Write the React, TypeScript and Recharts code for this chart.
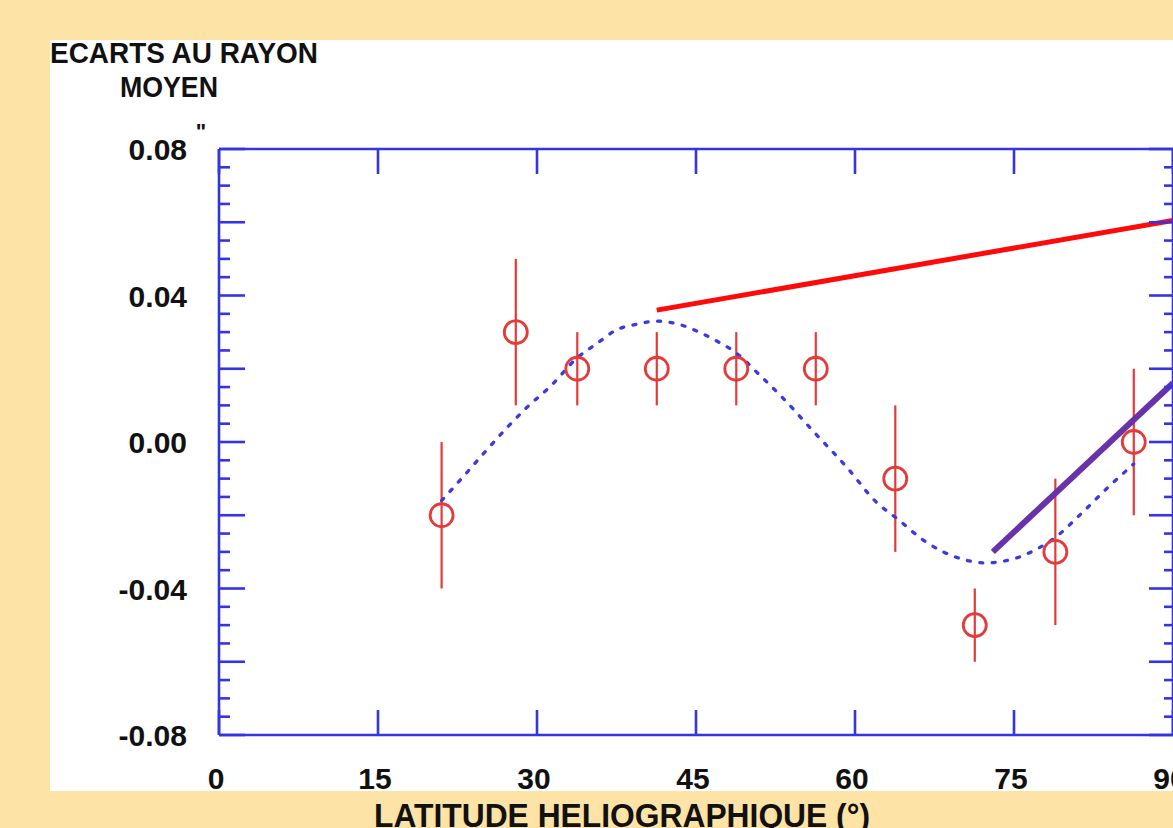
import React from 'react'
import { ComposedChart, Line, Scatter, ErrorBar, XAxis, YAxis } from 'recharts'

// measured points (latitude, deviation, error)
const latitudes = [21.0, 28.0, 33.8, 41.3, 48.8, 56.3, 63.8, 71.3, 78.9, 86.3]
const ecarts = [-0.02, 0.03, 0.02, 0.02, 0.02, 0.02, -0.01, -0.05, -0.03, 0.0]
const errors = [0.02, 0.02, 0.01, 0.01, 0.01, 0.01, 0.02, 0.01, 0.02, 0.02]

// dotted fit curve
const fitLat = [21.0, 23.0, 25.0, 27.2, 29.1, 31.2, 33.8, 35.7, 37.5, 39.5, 41.3, 43.3, 45.3, 47.0, 48.8, 51.0, 53.2, 56.2, 59.2, 62.0, 64.0, 66.7, 69.8, 72.3, 75.2, 77.3, 78.7, 81.4, 83.9, 86.3]
const fitVal = [-0.016, -0.0096, -0.003, 0.004, 0.0096, 0.015, 0.023, 0.027, 0.0306, 0.0322, 0.033, 0.0322, 0.03, 0.0275, 0.0243, 0.0183, 0.012, 0.0025, -0.0068, -0.0164, -0.021, -0.0273, -0.0317, -0.033, -0.0317, -0.029, -0.0265, -0.0194, -0.0123, -0.006]

// annotation strokes
const redLat = [41.3, 90]
const redVal = [0.036, 0.0605]
const purpleLat = [73.0, 90]
const purpleVal = [-0.03, 0.0161]

const xTicks = [0, 15, 30, 45, 60, 75, 90]
const yTicks = [
  -0.08, -0.075, -0.07, -0.065, -0.06, -0.055, -0.05, -0.045, -0.04, -0.035, -0.03,
  -0.025, -0.02, -0.015, -0.01, -0.005, 0, 0.005, 0.01, 0.015, 0.02, 0.025, 0.03,
  0.035, 0.04, 0.045, 0.05, 0.055, 0.06, 0.065, 0.07, 0.075, 0.08,
]

const AXIS = '#3434e4'
const POINT = '#e43a3a'
const FONT = '"Liberation Sans", Arial, sans-serif'
const AXW = 2.6

const points = latitudes.map((x, i) => ({ x, y: ecarts[i], err: errors[i] }))
const fitCurve = fitLat.map((x, i) => ({ x, y: fitVal[i] }))
const redLine = redLat.map((x, i) => ({ x, y: redVal[i] }))
const purpleLine = purpleLat.map((x, i) => ({ x, y: purpleVal[i] }))

const isMajor = (v: number) => Math.round(v * 1000) % 20 === 0
const isLabel = (v: number) => Math.round(v * 1000) % 40 === 0

function LeftTick(props: any) {
  const { x, y, payload } = props
  const v = payload.value
  return (
    <g>
      <line x1={x} y1={y} x2={x + (isMajor(v) ? 26 : 11)} y2={y} stroke={AXIS} strokeWidth={AXW} />
      {isLabel(v) && (
        <text x={x - 32} y={y} dy={11} textAnchor="end" fontFamily={FONT} fontWeight="bold" fontSize={30} fill="#111">
          {v.toFixed(2)}
        </text>
      )}
    </g>
  )
}

function RightTick(props: any) {
  const { x, y, payload } = props
  return <line x1={x} y1={y} x2={x - (isMajor(payload.value) ? 24 : 9)} y2={y} stroke={AXIS} strokeWidth={AXW} />
}

function BottomTick(props: any) {
  const { x, y, payload } = props
  return (
    <g>
      <line x1={x} y1={y} x2={x} y2={y - 25} stroke={AXIS} strokeWidth={AXW} />
      <text x={x - 3} y={y + 54} textAnchor="middle" fontFamily={FONT} fontWeight="bold" fontSize={30} fill="#111">
        {payload.value}
      </text>
    </g>
  )
}

function TopTick(props: any) {
  const { x, y } = props
  return <line x1={x} y1={y} x2={x} y2={y + 25} stroke={AXIS} strokeWidth={AXW} />
}

function Ring(props: any) {
  const { cx, cy } = props
  return <circle cx={cx} cy={cy} r={11.5} fill="none" stroke={POINT} strokeWidth={2.8} />
}

export default function App() {
  return (
    <div style={{ position: 'absolute', left: 0, top: 0, width: 1173, height: 828, overflow: 'hidden', background: '#fee3a6' }}>
      <div style={{ position: 'absolute', left: 50, top: 40, width: 1123, height: 751, background: '#ffffff' }} />
      <div style={{ position: 'absolute', left: 0, top: 0 }}>
        <ComposedChart width={1200} height={828} margin={{ top: 129, right: 7, bottom: 33, left: 159 }}>
          <XAxis
            dataKey="x"
            type="number"
            domain={[0, 90]}
            ticks={xTicks}
            interval={0}
            height={60}
            tickSize={0}
            tickMargin={0}
            tick={<BottomTick />}
            axisLine={{ stroke: AXIS, strokeWidth: AXW }}
            allowDataOverflow
          />
          <XAxis
            xAxisId="top"
            orientation="top"
            dataKey="x"
            type="number"
            domain={[0, 90]}
            ticks={xTicks}
            interval={0}
            height={20}
            tickSize={0}
            tickMargin={0}
            tick={<TopTick />}
            axisLine={{ stroke: AXIS, strokeWidth: AXW }}
            allowDataOverflow
          />
          <YAxis
            type="number"
            domain={[-0.08, 0.08]}
            ticks={yTicks}
            interval={0}
            width={60}
            tickSize={0}
            tickMargin={0}
            tick={<LeftTick />}
            axisLine={{ stroke: AXIS, strokeWidth: AXW }}
            allowDataOverflow
          />
          <YAxis
            yAxisId="right"
            orientation="right"
            type="number"
            domain={[-0.08, 0.08]}
            ticks={yTicks}
            interval={0}
            width={20}
            tickSize={0}
            tickMargin={0}
            tick={<RightTick />}
            axisLine={{ stroke: AXIS, strokeWidth: AXW }}
            allowDataOverflow
          />
          <Line xAxisId="top" yAxisId="right" data={fitCurve} dataKey="y" stroke="none" dot={false} isAnimationActive={false} />
          <Scatter data={points} dataKey="y" shape={<Ring />} isAnimationActive={false}>
            <ErrorBar dataKey="err" direction="y" width={0} stroke={POINT} strokeWidth={2.2} isAnimationActive={false} />
          </Scatter>
          <Line
            data={fitCurve}
            dataKey="y"
            type="monotone"
            stroke="#3a3ae2"
            strokeWidth={3.3}
            strokeDasharray="3 9.5"
            strokeLinecap="round"
            dot={false}
            isAnimationActive={false}
          />
          <Line data={redLine} dataKey="y" stroke="#ff0a0a" strokeWidth={5} dot={false} isAnimationActive={false} />
          <Line data={purpleLine} dataKey="y" stroke="#6a32a8" strokeWidth={6} dot={false} isAnimationActive={false} />
        </ComposedChart>
      </div>
      <svg width={1173} height={828} style={{ position: 'absolute', left: 0, top: 0, pointerEvents: 'none' }}>
        <g fontFamily={FONT} fontWeight="bold" fill="#111">
          <text x={50} y={63} fontSize={29} textLength={268} lengthAdjust="spacingAndGlyphs">ECARTS AU RAYON</text>
          <text x={120} y={97} fontSize={29} textLength={98} lengthAdjust="spacingAndGlyphs">MOYEN</text>
          <text x={201} y={139} textAnchor="middle" fontSize={22}>"</text>
          <text x={374} y={827} fontSize={33} textLength={496} lengthAdjust="spacingAndGlyphs">LATITUDE HELIOGRAPHIQUE (°)</text>
        </g>
      </svg>
    </div>
  )
}
